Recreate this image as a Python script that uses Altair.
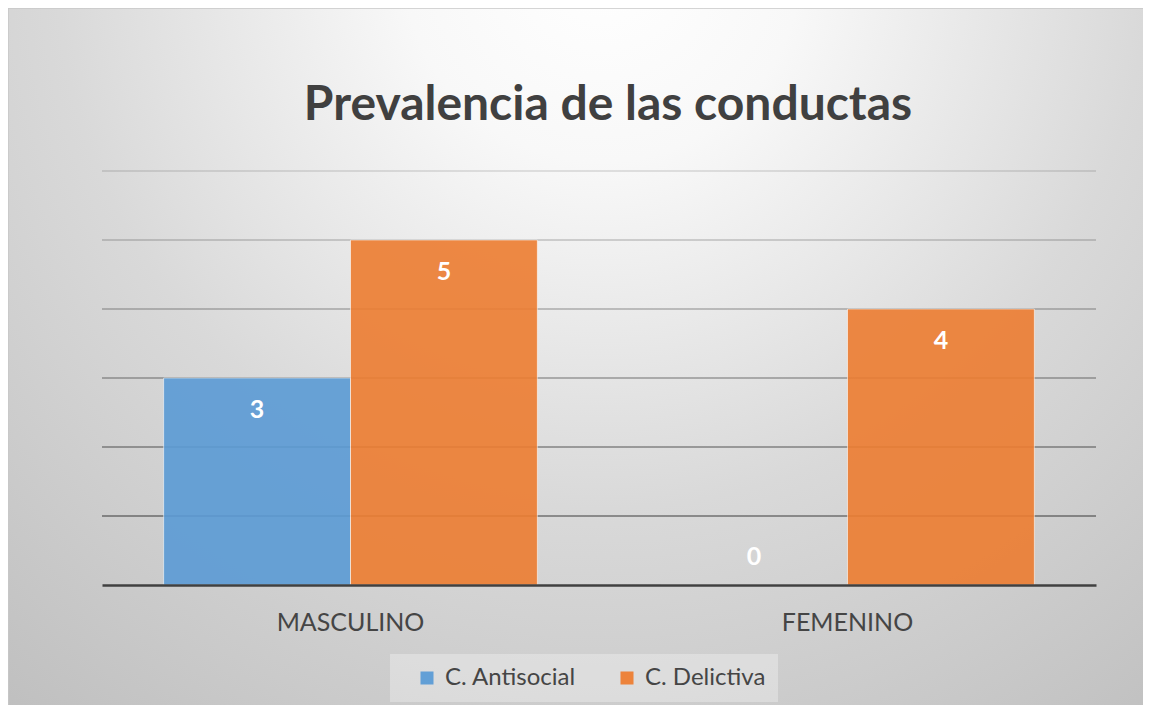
import altair as alt
import pandas as pd

categories = ["MASCULINO", "FEMENINO"]
series = ["C. Antisocial", "C. Delictiva"]
antisocial = [3, 0]
delictiva = [5, 4]
grid_ticks = [1, 2, 3, 4, 5, 6]
colors = ["#5b9bd5", "#ed7d31"]

rows = []
for i, c in enumerate(categories):
    rows.append({"sexo": c, "tipo": series[0], "valor": antisocial[i]})
    rows.append({"sexo": c, "tipo": series[1], "valor": delictiva[i]})
df = pd.DataFrame(rows)
ticks_df = pd.DataFrame({"tick": grid_ticks})
bg_df = pd.DataFrame({"k": [0]})

W, H = 994, 414
PL, PT, PR, PB = 94, 163, 47, 120

yscale = alt.Scale(domain=[0, 6], nice=False)
xscale = alt.Scale(paddingInner=0.248, paddingOuter=0.124)

grad = {
    "gradient": "radial",
    "x1": 0.51, "y1": 0.15, "r1": 0.0,
    "x2": 0.51, "y2": 0.15, "r2": 0.85,
    "stops": [
        {"offset": 0.0, "color": "#ffffff"},
        {"offset": 0.2, "color": "#f8f8f8"},
        {"offset": 0.55, "color": "#d9d9d9"},
        {"offset": 1.0, "color": "#bdbdbd"},
    ],
}

bg = alt.Chart(bg_df).mark_rect(fill=grad, stroke="#c8c8c8", strokeWidth=1.5, clip=False).encode(
    x=alt.value(-PL), x2=alt.value(W + PR + 30),
    y=alt.value(-PT), y2=alt.value(H + PB + 30),
)

grid = alt.Chart(ticks_df).mark_rule(color="black", strokeWidth=2).encode(
    y=alt.Y("tick:Q", scale=yscale, axis=None),
    opacity=alt.Opacity("tick:Q", scale=alt.Scale(domain=[1, 6], range=[0.36, 0.1]), legend=None),
)

xenc = alt.X("sexo:N", sort=categories, scale=xscale, title=None,
             axis=alt.Axis(labelAngle=0, ticks=False, domainColor="#404040", domainWidth=2.5,
                           labelFont="Lato", labelFontSize=25, labelColor="#454545",
                           labelPadding=25, zindex=1, grid=False))
xoff = alt.XOffset("tipo:N", sort=series)

bars = alt.Chart(df).mark_bar(opacity=0.9, stroke="white", strokeWidth=1, strokeOpacity=0.6).encode(
    x=xenc,
    xOffset=xoff,
    y=alt.Y("valor:Q", scale=yscale, axis=None),
    color=alt.Color("tipo:N", sort=series, scale=alt.Scale(domain=series, range=colors),
                    legend=alt.Legend(title=None, orient="none", legendX=288, legendY=483,
                                      direction="horizontal", symbolType="square", symbolSize=169,
                                      symbolStrokeWidth=0, symbolOpacity=0.95,
                                      labelFont="Lato", labelFontSize=24, labelColor="#454545",
                                      labelOffset=6, columnPadding=26, padding=12,
                                      symbolOffset=13,
                                      fillColor="rgba(255,255,255,0.3)")),
)

lab_pos = alt.Chart(df).transform_filter("datum.valor > 0").mark_text(
    font="Lato", fontSize=25, fontWeight="bold", color="white", baseline="middle", dy=32
).encode(x=alt.X("sexo:N", sort=categories, scale=xscale), xOffset=xoff,
         y=alt.Y("valor:Q", scale=yscale), text="valor:Q")

lab_zero = alt.Chart(df).transform_filter("datum.valor == 0").mark_text(
    font="Lato", fontSize=25, fontWeight="bold", color="white", baseline="middle", dy=-28
).encode(x=alt.X("sexo:N", sort=categories, scale=xscale), xOffset=xoff,
         y=alt.Y("valor:Q", scale=yscale), text="valor:Q")

chart = alt.layer(bg, grid, bars, lab_pos, lab_zero).properties(
    width=W, height=H,
    autosize=alt.AutoSizeParams(type="none"),
    padding={"left": PL, "top": PT, "right": PR, "bottom": PB},
    title=alt.TitleParams("Prevalencia de las conductas", font="Lato", fontSize=48,
                          fontWeight="bold", color="#404040", anchor="middle",
                          offset=-123, dx=9, frame="group"),
).configure_view(stroke=None).configure(background="white")

chart.save("out.html", embed_options={"renderer": "svg", "actions": False})
